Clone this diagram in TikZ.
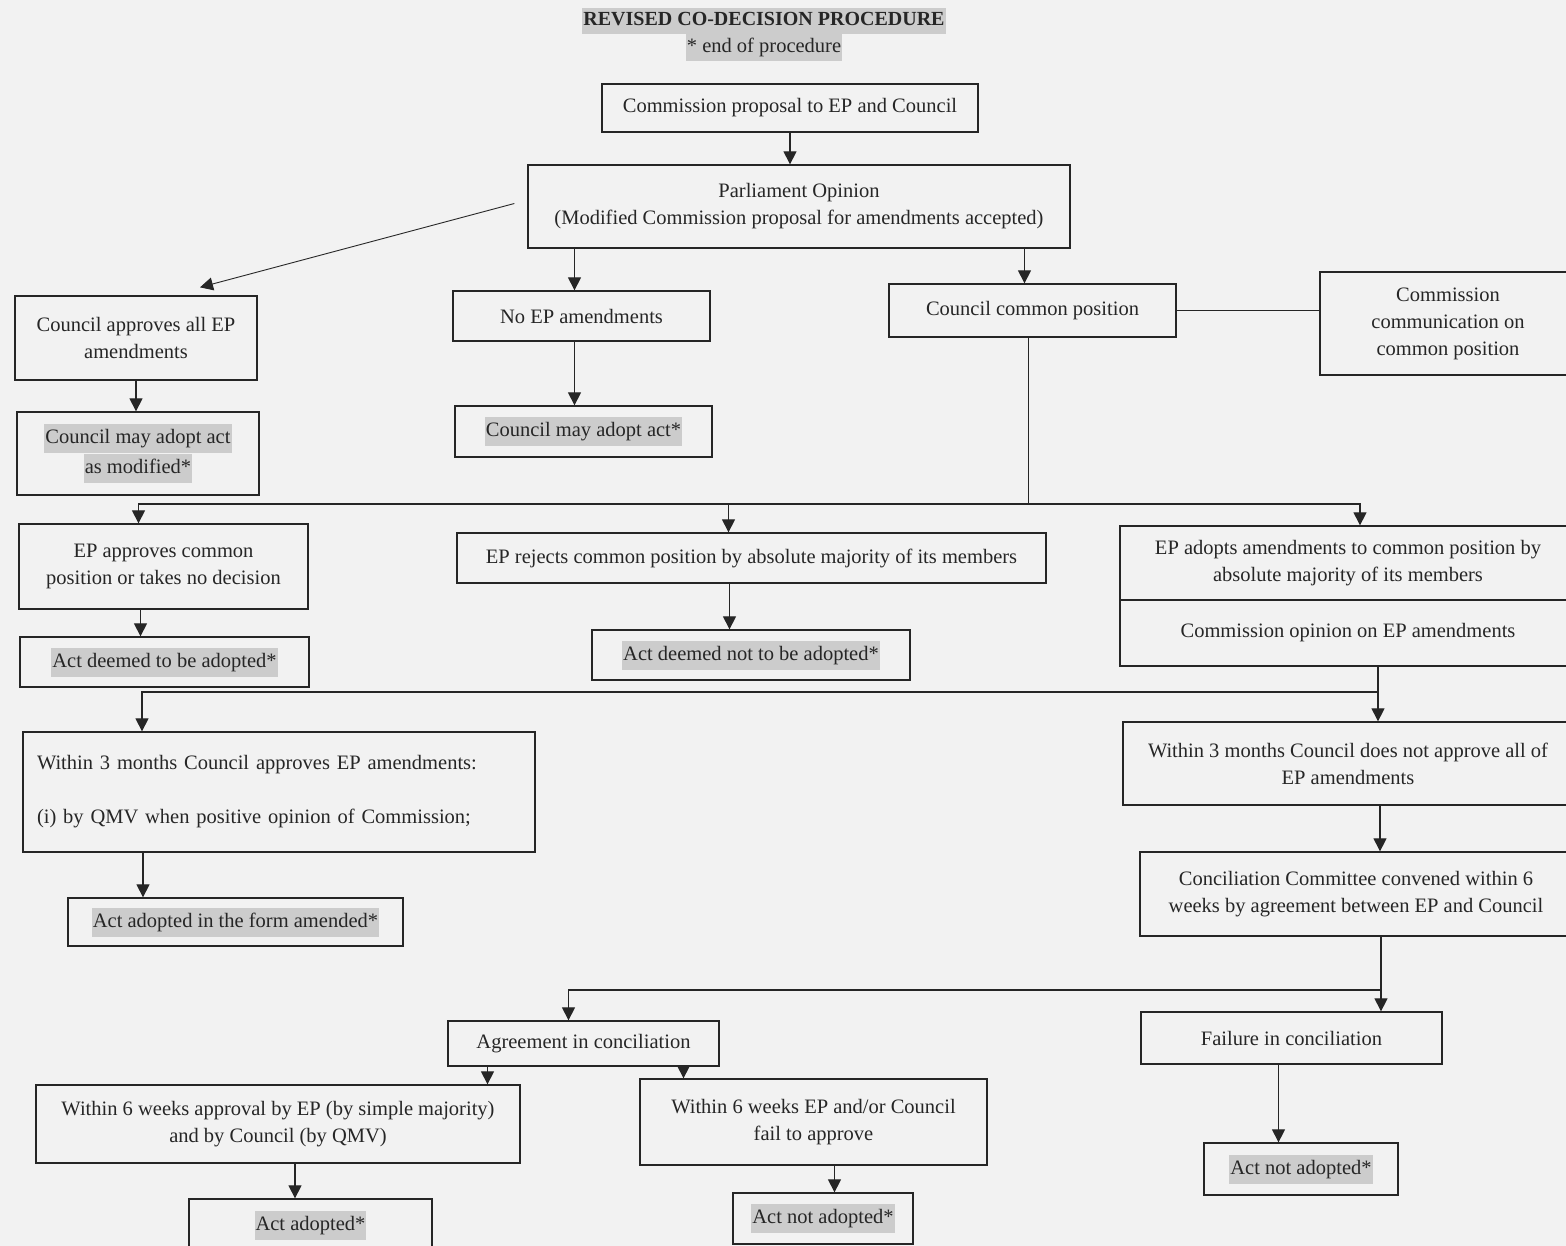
\documentclass[tikz,border=0pt]{standalone}
\usepackage{fontspec}
\setmainfont{Liberation Serif}
\usetikzlibrary{arrows.meta}
\definecolor{paper}{gray}{0.95}
\definecolor{hlgray}{gray}{0.80}
\definecolor{ink}{gray}{0.15}
\newcommand{\markhl}[1]{{\setlength{\fboxsep}{1pt}\colorbox{hlgray}{\strut#1}}}

\begin{document}
\begin{tikzpicture}[x=1pt,y=-1pt,
    font=\fontsize{20.5}{27}\selectfont,
    box/.style={draw=ink, line width=1.3pt, inner sep=0pt, align=center, text=ink},
    boxsize/.style 2 args={minimum width=#1pt, minimum height=#2pt},
    arr/.style={draw=ink, line width=1.2pt, -{Triangle[width=13pt,length=13pt]}},
    link/.style={draw=ink, line width=1.2pt}]

    \fill[paper] (0,0) rectangle (1566,1246);
    \useasboundingbox (0,0) rectangle (1566,1246);

    % heading
    \node[text=ink, font=\fontsize{20}{24}\selectfont\bfseries] (title) at (764,21)
        {\markhl{REVISED CO-DECISION PROCEDURE}};
    \node[text=ink] (note) at (764,47) {\markhl{* end of procedure}};

    % first reading
    \node[box, boxsize={376}{48}] (prop) at (790,108) {Commission proposal to EP and Council};
    \node[box, boxsize={542}{83}] (opin) at (799,206.5)
        {Parliament Opinion\\(Modified Commission proposal for amendments accepted)};
    \node[box, boxsize={242}{84}] (appr) at (136,338) {Council approves all EP\\amendments};
    \node[box, boxsize={257}{50}] (noam) at (581.5,316) {No EP amendments};
    \node[box, boxsize={287}{53}] (cpos) at (1032.5,310.5) {Council common position};
    \node[box, boxsize={256}{103}] (comm) at (1448,323.5)
        {Commission\\communication on\\common position};
    \node[box, boxsize={242}{83}] (adm) at (138,453.5)
        {\markhl{Council may adopt act}\\\markhl{as modified*}};
    \node[box, boxsize={257}{51}] (adnm) at (583.5,431.5) {\markhl{Council may adopt act*}};

    % second reading
    \node[box, boxsize={289}{85}] (epap) at (163.5,566.5)
        {EP approves common\\position or takes no decision};
    \node[box, boxsize={589}{50}] (eprj) at (751.5,558)
        {EP rejects common position by absolute majority of its members};
    \node[box, boxsize={456}{74}] (epad) at (1348,563)
        {EP adopts amendments to common position by\\absolute majority of its members};
    \node[box, boxsize={456}{66}] (copin) at (1348,633) {Commission opinion on EP amendments};
    \node[box, boxsize={289}{50}] (deem) at (164.5,662) {\markhl{Act deemed to be adopted*}};
    \node[box, boxsize={318}{50}] (deemn) at (751,655) {\markhl{Act deemed not to be adopted*}};

    % Council second reading
    \node[box, align=left, text width=484pt, inner xsep=14pt, boxsize={512}{120}] (w3a) at (279,792)
        {Within 3 months Council approves EP amendments:\\[27pt](i) by QMV when positive opinion of Commission;};
    \node[box, boxsize={450}{83}] (w3n) at (1348,763.5)
        {Within 3 months Council does not approve all of\\EP amendments};
    \node[box, boxsize={335}{48}] (form) at (235.5,922) {\markhl{Act adopted in the form amended*}};
    \node[box, boxsize={432}{84}] (conc) at (1356,894)
        {Conciliation Committee convened within 6\\weeks by agreement between EP and Council};

    % conciliation
    \node[box, boxsize={271}{45}] (agr) at (583.5,1043.5) {Agreement in conciliation};
    \node[box, boxsize={301}{52}] (fail) at (1291.5,1038) {Failure in conciliation};
    \node[box, boxsize={484}{78}] (w6a) at (278,1124)
        {Within 6 weeks approval by EP (by simple majority)\\and by Council (by QMV)};
    \node[box, boxsize={347}{86}] (w6f) at (813.5,1122)
        {Within 6 weeks EP and/or Council\\fail to approve};
    \node[box, boxsize={243}{52}] (actad) at (310.5,1225) {\markhl{Act adopted*}};
    \node[box, boxsize={180}{51}] (notad1) at (823,1218.5) {\markhl{Act not adopted*}};
    \node[box, boxsize={194}{52}] (notad2) at (1301,1169) {\markhl{Act not adopted*}};

    \coordinate (bus1) at (1028.5,504);
    \coordinate (bus2) at (1378,692);
    \coordinate (bus3) at (1381,990);

    \draw[arr] (prop.south) -- (prop.south |- opin.north);
    \draw[arr, line width=0.9pt] ([xshift=-13pt,yshift=3pt]opin.west) -- ([xshift=64pt,yshift=8pt]appr.north);
    \draw[arr] ([xshift=-7pt]noam.north |- opin.south) -- ([xshift=-7pt]noam.north);
    \draw[arr] ([xshift=-8pt]cpos.north |- opin.south) -- ([xshift=-8pt]cpos.north);
    \draw[link] (cpos.east) -- (cpos.east -| comm.west);
    \draw[arr] (appr.south) -- (appr.south |- adm.north);
    \draw[arr] ([xshift=-7pt]noam.south) -- ([xshift=-7pt]noam.south |- adnm.north);

    \draw[link] (bus1 |- cpos.south) -- (bus1);
    \draw[arr] (bus1) -| ([xshift=-25pt]epap.north);
    \draw[arr] (bus1) -| ([xshift=-23pt]eprj.north);
    \draw[arr] (bus1) -| ([xshift=12pt]epad.north);
    \draw[arr] ([xshift=-23pt]epap.south) -- ([xshift=-23pt]epap.south |- deem.north);
    \draw[arr] ([xshift=-22pt]eprj.south) -- ([xshift=-22pt]eprj.south |- deemn.north);

    \draw[link] (bus2 |- copin.south) -- (bus2);
    \draw[arr] (bus2) -| ([xshift=-137pt]w3a.north);
    \draw[arr] (bus2) -- (bus2 |- w3n.north);
    \draw[arr] ([xshift=-136pt]w3a.south) -- ([xshift=-136pt]w3a.south |- form.north);
    \draw[arr] ([xshift=32pt]w3n.south) -- ([xshift=32pt]w3n.south |- conc.north);

    \draw[link] (bus3 |- conc.south) -- (bus3);
    \draw[arr] (bus3) -| ([xshift=-15pt]agr.north);
    \draw[arr] (bus3) -- (bus3 |- fail.north);
    \draw[arr] ([xshift=-96pt]agr.south) -- ([xshift=-96pt]agr.south |- w6a.north);
    \draw[arr] ([xshift=100pt]agr.south) -- ([xshift=100pt]agr.south |- w6f.north);
    \draw[arr] ([xshift=17pt]w6a.south) -- ([xshift=17pt]w6a.south |- actad.north);
    \draw[arr] ([xshift=21pt]w6f.south) -- ([xshift=21pt]w6f.south |- notad1.north);
    \draw[arr] ([xshift=-13pt]fail.south) -- ([xshift=-13pt]fail.south |- notad2.north);
\end{tikzpicture}
\end{document}
